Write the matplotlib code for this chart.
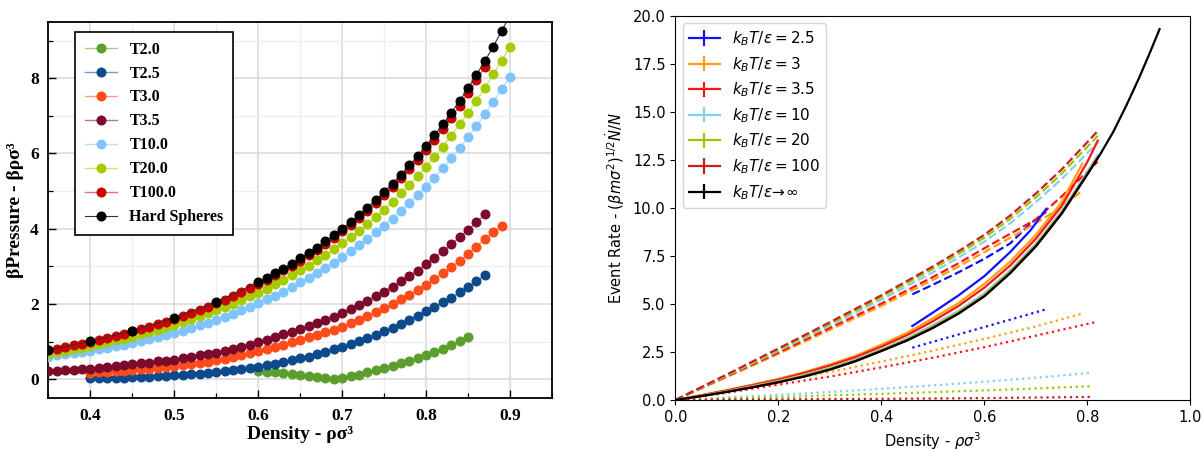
import numpy as np
import matplotlib
matplotlib.use("Agg")
import matplotlib.pyplot as plt
from matplotlib.colors import to_rgb
from matplotlib.ticker import MultipleLocator

# ---------------- left panel: pressure vs density ----------------
rho_grid = np.round(np.arange(0.35, 0.905, 0.01), 2)   # 0.35 ... 0.90

p_T20 = [0.68, 0.72, 0.76, 0.80, 0.84, 0.88, 0.93, 0.98, 1.03, 1.08, 1.13, 1.19, 1.25, 1.31,
         1.38, 1.45, 1.52, 1.59, 1.67, 1.75, 1.83, 1.92, 2.01, 2.10, 2.20, 2.30, 2.41, 2.52,
         2.64, 2.76, 2.89, 3.02, 3.16, 3.30, 3.45, 3.61, 3.77, 3.94, 4.12, 4.31, 4.51, 4.72,
         4.94, 5.16, 5.40, 5.65, 5.91, 6.18, 6.47, 6.77, 7.08, 7.40, 7.74, 8.10, 8.47, 8.84]
p_T10 = [0.60, 0.63, 0.66, 0.69, 0.72, 0.75, 0.79, 0.83, 0.87, 0.91, 0.96, 1.01, 1.06, 1.11,
         1.17, 1.23, 1.29, 1.36, 1.43, 1.50, 1.58, 1.66, 1.74, 1.83, 1.92, 2.02, 2.12, 2.22,
         2.33, 2.45, 2.57, 2.69, 2.82, 2.96, 3.10, 3.25, 3.40, 3.56, 3.73, 3.90, 4.08, 4.27,
         4.47, 4.68, 4.89, 5.12, 5.36, 5.61, 5.87, 6.14, 6.43, 6.73, 7.04, 7.37, 7.70, 8.04]
p_T100 = [0.77, 0.81, 0.85, 0.90, 0.94, 0.99, 1.04, 1.10, 1.15, 1.21, 1.27, 1.33, 1.39, 1.46,
          1.53, 1.61, 1.68, 1.76, 1.84, 1.93, 2.02, 2.11, 2.21, 2.31, 2.42, 2.53, 2.64, 2.76,
          2.89, 3.02, 3.15, 3.30, 3.44, 3.60, 3.76, 3.93, 4.11, 4.29, 4.48, 4.68, 4.89, 5.11,
          5.34, 5.58, 5.83, 6.09, 6.37, 6.65, 6.95, 7.27, 7.60, 7.94, 8.31]
p_T35 = [0.22, 0.23, 0.24, 0.25, 0.26, 0.28, 0.30, 0.32, 0.35, 0.37, 0.39, 0.42, 0.44, 0.47,
         0.49, 0.52, 0.56, 0.59, 0.63, 0.66, 0.70, 0.75, 0.80, 0.86, 0.92, 0.98, 1.05, 1.12,
         1.19, 1.26, 1.33, 1.41, 1.49, 1.58, 1.66, 1.75, 1.86, 1.97, 2.08, 2.20, 2.33, 2.46,
         2.60, 2.74, 2.88, 3.05, 3.22, 3.40, 3.58, 3.78, 3.97, 4.17, 4.38]
p_T30 = [0.17, 0.18, 0.19, 0.21, 0.22, 0.24, 0.26, 0.28, 0.30, 0.32, 0.35, 0.37, 0.40, 0.43,
         0.46, 0.50, 0.54, 0.58, 0.63, 0.69, 0.76, 0.81, 0.86, 0.92, 0.98, 1.04, 1.11, 1.18,
         1.25, 1.32, 1.40, 1.49, 1.58, 1.68, 1.78, 1.89, 2.00, 2.12, 2.24, 2.37, 2.50, 2.65,
         2.81, 2.98, 3.15, 3.33, 3.52, 3.72, 3.90, 4.08]
p_T25 = [0.02, 0.02, 0.03, 0.04, 0.04, 0.05, 0.06, 0.07, 0.08, 0.09, 0.10, 0.11, 0.13, 0.15,
         0.17, 0.19, 0.21, 0.24, 0.27, 0.30, 0.33, 0.37, 0.41, 0.45, 0.50, 0.55, 0.60, 0.66,
         0.72, 0.79, 0.86, 0.93, 1.01, 1.09, 1.18, 1.27, 1.37, 1.47, 1.58, 1.69, 1.80, 1.92,
         2.04, 2.17, 2.31, 2.45, 2.60, 2.76]
p_T20_low = [0.22, 0.20, 0.18, 0.16, 0.13, 0.10, 0.08, 0.05, 0.02, 0.00, 0.04, 0.08, 0.12,
             0.18, 0.24, 0.30, 0.36, 0.42, 0.48, 0.55, 0.63, 0.72, 0.81, 0.91, 1.02, 1.12]

hs_rho = [0.35, 0.40, 0.45, 0.50, 0.55, 0.60, 0.61, 0.62, 0.63, 0.64, 0.65, 0.66, 0.67, 0.68,
          0.69, 0.70, 0.71, 0.72, 0.73, 0.74, 0.75, 0.76, 0.77, 0.78, 0.79, 0.80, 0.81, 0.82,
          0.83, 0.84, 0.85, 0.86, 0.87, 0.88, 0.89, 0.90]
hs_p = [0.78, 1.01, 1.29, 1.63, 2.05, 2.57, 2.69, 2.81, 2.94, 3.07, 3.21, 3.35, 3.50, 3.66,
        3.83, 4.00, 4.18, 4.36, 4.56, 4.76, 4.98, 5.20, 5.43, 5.68, 5.93, 6.20, 6.48, 6.77,
        7.08, 7.40, 7.73, 8.09, 8.45, 8.84, 9.25, 9.67]

# extra point left of the axis for T3.0 (only its line is visible)
t30_first = (0.30, 0.13)


def dens(start, n):
    i = int(round((start - 0.35) / 0.01))
    return rho_grid[i:i + n]


def lighter(c, f=0.5):
    r, g, b = to_rgb(c)
    return (r + (1 - r) * f, g + (1 - g) * f, b + (1 - b) * f)


left_series = [
    ("T2.0", dens(0.60, len(p_T20_low)), p_T20_low, "#5c9e2e"),
    ("T2.5", dens(0.40, len(p_T25)), p_T25, "#0d4a8c"),
    ("T3.0", np.r_[t30_first[0], dens(0.40, len(p_T30))], [t30_first[1]] + p_T30, "#ff4c1a"),
    ("T3.5", dens(0.35, len(p_T35)), p_T35, "#7b0a2b"),
    ("T10.0", dens(0.35, len(p_T10)), p_T10, "#80c4ff"),
    ("T20.0", dens(0.35, len(p_T20)), p_T20, "#a6cc00"),
    ("T100.0", dens(0.35, len(p_T100)), p_T100, "#cc0000"),
    ("Hard Spheres", hs_rho, hs_p, "black"),
]

# ---------------- right panel: event rate vs density ----------------
er_labels = [r"$k_BT/\varepsilon=2.5$", r"$k_BT/\varepsilon=3$", r"$k_BT/\varepsilon=3.5$",
             r"$k_BT/\varepsilon=10$", r"$k_BT/\varepsilon=20$", r"$k_BT/\varepsilon=100$",
             r"$k_BT/\varepsilon\!\to\!\infty$"]
er_colors = ["#1010ff", "#ff9f10", "#ff1515", "#88ccf8", "#99c800", "#c82020", "black"]

x_blue = [0.46, 0.50, 0.55, 0.60, 0.65, 0.69, 0.72]
x_orange = [0.0, 0.05, 0.1, 0.15, 0.2, 0.25, 0.3, 0.35, 0.4, 0.45, 0.5, 0.55, 0.6, 0.65, 0.7, 0.75, 0.79]
x_full = [0.0, 0.05, 0.1, 0.15, 0.2, 0.25, 0.3, 0.35, 0.4, 0.45, 0.5, 0.55, 0.6, 0.65, 0.7, 0.75, 0.8, 0.82]
x_hs = [0.0, 0.05, 0.1, 0.15, 0.2, 0.25, 0.3, 0.35, 0.4, 0.45, 0.5, 0.55, 0.6, 0.65, 0.7, 0.75,
        0.8, 0.825, 0.85, 0.875, 0.9, 0.92, 0.94]

solid_blue = [3.85, 4.55, 5.45, 6.45, 7.7, 8.85, 9.95]
solid_orange = [0, 0.25, 0.52, 0.80, 1.10, 1.45, 1.85, 2.30, 2.88, 3.50, 4.25, 5.05, 6.05, 7.2,
                8.6, 10.3, 12.3]
solid_red = [0, 0.24, 0.50, 0.77, 1.06, 1.40, 1.79, 2.23, 2.78, 3.38, 4.10, 4.90, 5.85, 7.0,
             8.4, 10.1, 12.4, 13.5]
solid_lblue = [0, 0.22, 0.46, 0.72, 0.99, 1.31, 1.68, 2.12, 2.65, 3.22, 3.90, 4.65, 5.55, 6.75,
               8.15, 9.85, 11.9, 12.75]
solid_ygreen = [0, 0.21, 0.44, 0.69, 0.96, 1.27, 1.63, 2.07, 2.60, 3.16, 3.82, 4.57, 5.47, 6.67,
                8.07, 9.77, 11.8, 12.65]
solid_dred = [0, 0.20, 0.43, 0.67, 0.93, 1.23, 1.59, 2.03, 2.56, 3.11, 3.76, 4.51, 5.41, 6.61,
              8.01, 9.71, 11.76, 12.6]
solid_hs = [0, 0.20, 0.42, 0.66, 0.92, 1.22, 1.58, 2.02, 2.55, 3.10, 3.75, 4.50, 5.40, 6.60,
            8.00, 9.70, 11.75, 12.8, 13.95, 15.3, 16.75, 18.0, 19.3]

x_dash = [0.0, 0.1, 0.2, 0.3, 0.4, 0.5, 0.55, 0.6, 0.65, 0.7, 0.75, 0.82]
x_dash_or = [0.0, 0.1, 0.2, 0.3, 0.4, 0.5, 0.55, 0.6, 0.65, 0.7, 0.75, 0.79]
dash_blue = [5.5, 6.0, 6.65, 7.35, 8.15, 9.2, 9.8]
dash_orange = [0, 1.20, 2.40, 3.65, 4.90, 6.25, 6.95, 7.70, 8.45, 9.20, 10.05, 10.9]
dash_red = [0, 1.23, 2.47, 3.75, 5.02, 6.40, 7.12, 7.90, 8.65, 9.40, 10.6, 12.4]
dash_lblue = [0, 1.27, 2.56, 3.88, 5.22, 6.65, 7.42, 8.24, 9.20, 10.30, 11.50, 13.4]
dash_ygreen = [0, 1.30, 2.62, 3.97, 5.35, 6.83, 7.61, 8.45, 9.43, 10.55, 11.78, 13.75]
dash_dred = [0, 1.33, 2.68, 4.05, 5.45, 6.95, 7.75, 8.60, 9.60, 10.75, 12.0, 14.0]

x_dot = [0.0, 0.1, 0.2, 0.3, 0.4, 0.5, 0.6, 0.7, 0.81]
x_dot_blue = [0.46, 0.5, 0.6, 0.72]
x_dot_or = [0.0, 0.1, 0.2, 0.3, 0.4, 0.5, 0.6, 0.7, 0.79]
x_dot_red = [0.0, 0.1, 0.2, 0.3, 0.4, 0.5, 0.6, 0.7, 0.82]
dot_blue = [2.72, 3.03, 3.80, 4.72]
dot_orange = [0, 0.47, 0.96, 1.46, 2.00, 2.57, 3.18, 3.83, 4.50]
dot_red = [0, 0.38, 0.80, 1.22, 1.70, 2.20, 2.75, 3.35, 4.08]
dot_lblue = [0, 0.13, 0.27, 0.42, 0.58, 0.76, 0.95, 1.16, 1.42]
dot_ygreen = [0, 0.07, 0.15, 0.24, 0.32, 0.41, 0.50, 0.60, 0.72]
dot_dred = [0, 0.02, 0.03, 0.05, 0.06, 0.08, 0.10, 0.13, 0.16]

right_solid = [(x_blue, solid_blue), (x_orange, solid_orange), (x_full, solid_red),
               (x_full, solid_lblue), (x_full, solid_ygreen), (x_full, solid_dred),
               (x_hs, solid_hs)]
right_dash = [(x_blue, dash_blue), (x_dash_or, dash_orange), (x_dash, dash_red),
              (x_dash, dash_lblue), (x_dash, dash_ygreen), (x_dash, dash_dred)]
right_dot = [(x_dot_blue, dot_blue), (x_dot_or, dot_orange), (x_dot_red, dot_red),
             (x_dot, dot_lblue), (x_dot, dot_ygreen), (x_dot, dot_dred)]

# ---------------- figure ----------------
fig = plt.figure(figsize=(12.03, 4.5), dpi=100)

serif = ["Liberation Serif", "DejaVu Serif"]
ax1 = fig.add_axes([0.0403, 0.1156, 0.4185, 0.836])
for lab, x, y, c in left_series:
    lw = 1.0 if lab != "Hard Spheres" else 0.8
    ax1.plot(x, y, "-o", color=lighter(c, 0.45) if lab != "Hard Spheres" else "#333333",
             lw=lw, ms=6.2, mfc=c, mec=c, label=lab, zorder=3)

ax1.set_xlim(0.35, 0.95)
ax1.set_ylim(-0.5, 9.5)
ax1.xaxis.set_major_locator(MultipleLocator(0.1))
ax1.xaxis.set_minor_locator(MultipleLocator(0.05))
ax1.yaxis.set_major_locator(MultipleLocator(2))
ax1.yaxis.set_minor_locator(MultipleLocator(1))
ax1.grid(True, which="major", color="#d8d8d8", lw=1.1, zorder=0)
ax1.grid(True, which="minor", color="#eeeeee", lw=0.9, zorder=0)
ax1.set_axisbelow(True)
ax1.tick_params(which="both", direction="in", top=False, right=False)
ax1.tick_params(which="major", length=6, width=1.0, pad=7)
ax1.tick_params(which="minor", length=3.5, width=0.9)
for s in ax1.spines.values():
    s.set_linewidth(1.3)
for t in ax1.get_xticklabels() + ax1.get_yticklabels():
    t.set_family(serif)
    t.set_fontweight("bold")
    t.set_fontsize(12.5)
ax1.set_xlabel("Density - ρσ³", family=serif, fontweight="bold", fontsize=14, labelpad=2)
ax1.set_ylabel("βPressure - βρσ³", family=serif, fontweight="bold", fontsize=14, labelpad=4)
leg1 = ax1.legend(loc="upper left", bbox_to_anchor=(0.053, 0.973), borderaxespad=0,
                  prop={"family": serif, "weight": "bold", "size": 11.5},
                  fancybox=False, edgecolor="black", framealpha=1, handlelength=2.0,
                  labelspacing=0.5, borderpad=0.6, handletextpad=0.8)
leg1.get_frame().set_linewidth(1.2)

ax2 = fig.add_axes([0.5614, 0.1111, 0.4282, 0.854])
for (x, y), c, lab in zip(right_solid, er_colors, er_labels):
    ax2.errorbar(x, y, yerr=np.zeros(len(y)), color=c, lw=1.6, label=lab)
for (x, y), c in zip(right_dash, er_colors):
    ax2.plot(x, y, "--", color=c, lw=1.6)
for (x, y), c in zip(right_dot, er_colors):
    ax2.plot(x, y, ":", color=c, lw=1.6)
ax2.set_xlim(0, 1)
ax2.set_ylim(0, 20)
ax2.xaxis.set_major_locator(MultipleLocator(0.2))
ax2.yaxis.set_major_locator(MultipleLocator(2.5))
ax2.tick_params(labelsize=10.5)
ax2.set_xlabel(r"Density - $\rho\sigma^3$", fontsize=10.5)
ax2.set_ylabel(r"Event Rate - $(\beta m\sigma^2)^{1/2}\dot{N}/N$", fontsize=10.5)
ax2.legend(loc="upper left", fontsize=11, handlelength=2.0, labelspacing=0.45)

fig.savefig("out.png", dpi=100)
